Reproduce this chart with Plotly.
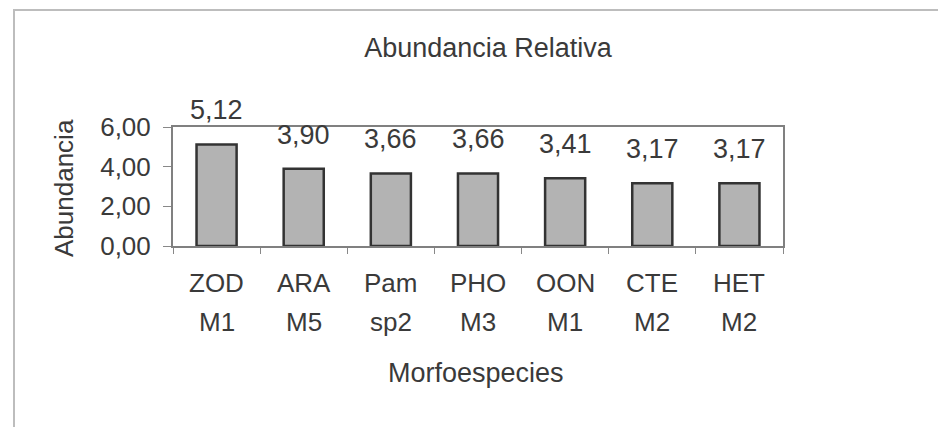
import plotly.graph_objects as go

# Data
linea1 = ["ZOD", "ARA", "Pam", "PHO", "OON", "CTE", "HET"]
linea2 = ["M1", "M5", "sp2", "M3", "M1", "M2", "M2"]
abundancia = [5.12, 3.90, 3.66, 3.66, 3.41, 3.17, 3.17]
yticks = [0, 2, 4, 6]

categorias = [f"{a} {b}" for a, b in zip(linea1, linea2)]

OFF = 8  # page body margin
W, H = 946 - OFF, 427 - OFF
L, R, T, B = 173 - OFF, 783 - OFF, 127 - OFF, 246 - OFF
pw, ph = R - L, B - T

def px(x):
    return (x - OFF - L) / pw

def py(y):
    return (B - (y - OFF)) / ph

FONT = "Liberation Sans, Arial, sans-serif"
TXT = "#3a3a3a"
FS = 26

fig = go.Figure()
fig.add_trace(go.Bar(
    x=categorias, y=abundancia,
    marker=dict(color="#b3b3b3", line=dict(color="#333333", width=2.5)),
    showlegend=False, hoverinfo="skip",
))

ann = []
for c, v, a, b in zip(categorias, abundancia, linea1, linea2):
    ann.append(dict(x=c, y=v, xref="x", yref="y", text=f"{v:.2f}".replace(".", ","),
                    showarrow=False, yanchor="middle", yshift=34,
                    font=dict(size=27, color=TXT, family=FONT)))
    ann.append(dict(x=c, y=py(283), xref="x", yref="paper", text=a, showarrow=False,
                    yanchor="middle", font=dict(size=FS, color=TXT, family=FONT)))
    ann.append(dict(x=c, y=py(322), xref="x", yref="paper", text=b, showarrow=False,
                    yanchor="middle", font=dict(size=FS, color=TXT, family=FONT)))

ann.append(dict(x=px(476), y=py(373), xref="paper", yref="paper", text="Morfoespecies",
                showarrow=False, xanchor="center", yanchor="middle",
                font=dict(size=27, color=TXT, family=FONT)))
ann.append(dict(x=px(64), y=py(188), xref="paper", yref="paper", text="Abundancia",
                showarrow=False, textangle=-90, xanchor="center", yanchor="middle",
                font=dict(size=FS, color=TXT, family=FONT)))

fig.update_layout(
    width=W, height=H,
    margin=dict(l=L, r=W - R, t=T, b=H - B, pad=0),
    paper_bgcolor="white", plot_bgcolor="white",
    separators=", ",
    bargap=0.54,
    title=dict(text="Abundancia Relativa", x=(488 - OFF) / W, xanchor="center",
               y=1 - (48 - OFF) / H, yanchor="middle", yref="container", xref="container",
               font=dict(size=27, color=TXT, family=FONT)),
    xaxis=dict(type="category", showticklabels=False, ticks="outside", ticklen=6,
               tickson="boundaries", tickcolor="#888888", showline=True, mirror=True,
               linecolor="#808080", linewidth=2, showgrid=False, fixedrange=True),
    yaxis=dict(range=[0, 6], tickvals=yticks, tickformat=".2f", ticks="outside",
               ticklen=8, tickcolor="#888888", showline=True, mirror=True,
               linecolor="#808080", linewidth=2, showgrid=False, zeroline=False,
               ticklabelstandoff=7,
               tickfont=dict(size=FS, color=TXT, family=FONT), fixedrange=True),
    annotations=ann,
    shapes=[dict(type="rect", xref="paper", yref="paper",
                 x0=px(14), x1=px(943), y0=py(440), y1=py(10),
                 line=dict(color="#bdbdbd", width=2), fillcolor="rgba(0,0,0,0)",
                 layer="below")],
)

fig.write_html("out.html")
